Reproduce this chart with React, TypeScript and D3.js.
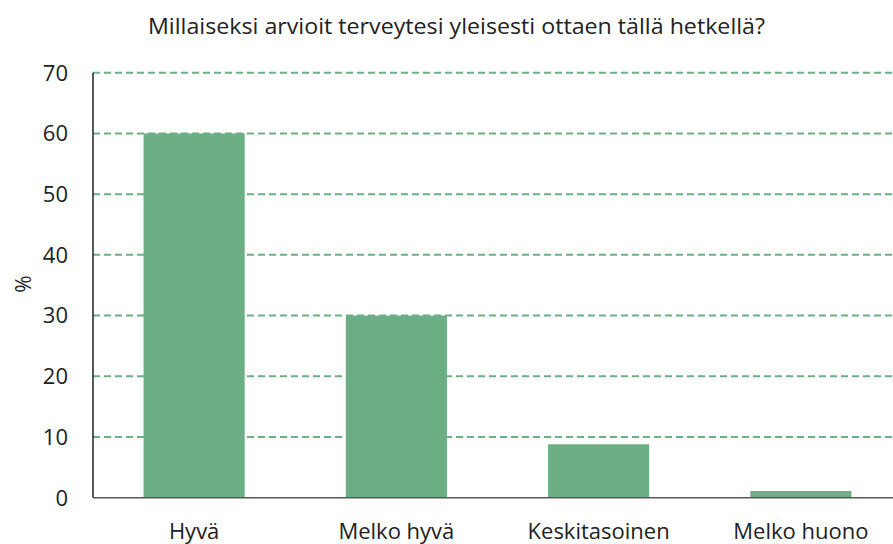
import React from "react";
import * as d3 from "d3";

const title = "Millaiseksi arvioit terveytesi yleisesti ottaen tällä hetkellä?";
const categories = ["Hyvä", "Melko hyvä", "Keskitasoinen", "Melko huono"];
const values = [60, 30, 8.8, 1.1];
const yTicks = [0, 10, 20, 30, 40, 50, 60, 70];
const yLabel = "%";

export default function App() {
  const W = 893, H = 544;
  const left = 93, right = 902, top = 72.7, bottom = 497.7;
  const x = d3.scaleBand<string>().domain(categories).range([left, right]).paddingInner(0.5).paddingOuter(0.25);
  const y = d3.scaleLinear().domain([0, 70]).range([bottom, top]);
  const font = "'Open Sans', 'Noto Sans', sans-serif";
  const green = "#6daf85";
  return (
    <svg width={W} height={H} style={{ position: "absolute", left: 0, top: 0, background: "#fff" }} fontFamily={font}>
      <text x={148} y={33.5} textAnchor="start" fontSize={21} fill="#222" textLength={617} lengthAdjust="spacingAndGlyphs">{title}</text>
      {yTicks.filter(t => t > 0).map(t => (
        <line key={t} x1={left} x2={right} y1={y(t)} y2={y(t)} stroke={green} strokeWidth={2} strokeDasharray="7,4" />
      ))}
      {categories.map((c, i) => (
        <rect key={c} x={x(c)} y={y(values[i])} width={x.bandwidth()} height={y(0) - y(values[i])} fill={green} />
      ))}
      <line x1={left} x2={left} y1={top} y2={bottom} stroke="#222" strokeWidth={1.5} />
      <line x1={left} x2={right} y1={bottom} y2={bottom} stroke="#595959" strokeWidth={1.5} />
      {yTicks.map(t => (
        <text key={t} x={68} y={y(t)} dy="0.36em" textAnchor="end" fontSize={22} fill="#222">{t}</text>
      ))}
      {categories.map(c => (
        <text key={c} x={(x(c) as number) + x.bandwidth() / 2} y={539} textAnchor="middle" fontSize={22} fill="#222">{c}</text>
      ))}
      <text transform={`translate(31,${284}) rotate(-90)`} textAnchor="middle" fontSize={21} fill="#222">{yLabel}</text>
    </svg>
  );
}
